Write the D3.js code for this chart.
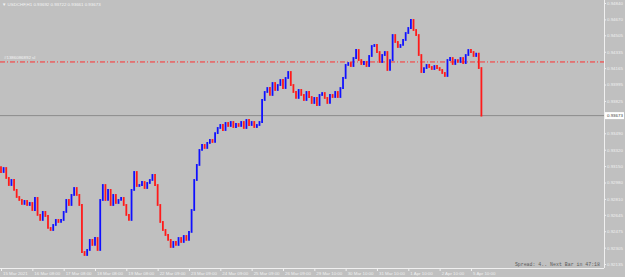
<!DOCTYPE html>
<html>
<head>
<meta charset="utf-8">
<script src="https://cdn.jsdelivr.net/npm/d3@7"></script>
<style>
  body { margin: 0; background: #c0c0c0; }
  svg { display: block; }
</style>
</head>
<body>
<div id="chart"></div>
<script>
// Donnees : cloture de chaque barre (2 heures par barre, USDCHF)
const closes = [
  0.93089,0.93130,0.93027,0.92954,0.93006,0.92903,0.92830,0.92799,0.92758,0.92789,
  0.92747,0.92768,0.92695,0.92820,0.92644,0.92592,0.92675,0.92633,0.92509,0.92488,
  0.92540,0.92592,0.92571,0.92592,0.92675,0.92799,0.92747,0.92851,0.92923,0.92851,
  0.92747,0.92260,0.92229,0.92281,0.92385,0.92333,0.92405,0.92281,0.92799,0.92954,
  0.92799,0.92903,0.92747,0.92851,0.92768,0.92799,0.92820,0.92747,0.92644,0.92592,
  0.92903,0.93089,0.92944,0.92954,0.92985,0.92923,0.92975,0.93006,0.93058,0.92954,
  0.92747,0.92571,0.92488,0.92436,0.92385,0.92312,0.92364,0.92333,0.92405,0.92364,
  0.92426,0.92385,0.92468,0.92695,0.93006,0.93162,0.93317,0.93369,0.93338,0.93390,
  0.93421,0.93400,0.93492,0.93545,0.93576,0.93524,0.93597,0.93566,0.93607,0.93555,
  0.93586,0.93566,0.93607,0.93545,0.93628,0.93576,0.93607,0.93555,0.93576,0.93607,
  0.93835,0.93918,0.93959,0.93887,0.94011,0.93939,0.93990,0.94042,0.93959,0.94063,
  0.94125,0.93990,0.93918,0.93856,0.93939,0.93887,0.93835,0.93918,0.93866,0.93804,
  0.93856,0.93783,0.93887,0.93907,0.93856,0.93804,0.93887,0.93866,0.93918,0.93866,
  0.93959,0.94063,0.94198,0.94218,0.94187,0.94270,0.94353,0.94249,0.94208,0.94229,
  0.94187,0.94291,0.94394,0.94405,0.94332,0.94229,0.94301,0.94332,0.94146,0.94249,
  0.94508,0.94436,0.94384,0.94405,0.94457,0.94529,0.94581,0.94664,0.94560,0.94508,
  0.94301,0.94125,0.94166,0.94198,0.94177,0.94156,0.94187,0.94166,0.94146,0.94115,
  0.94084,0.94249,0.94270,0.94208,0.94249,0.94229,0.94270,0.94218,0.94301,0.94353,
  0.94332,0.94291,0.94315,0.94166,0.93673
];
const firstOpen = 0.93140;
const hoursPerBar = 2;

// Graduations de prix (axe droit)
const priceTicks = [0.94840,0.94670,0.94505,0.94335,0.94165,0.93995,0.93825,
  0.93490,0.93320,0.93150,0.92980,0.92810,0.92645,0.92475,0.92305,0.92135];
const priceDomain = [0.92094, 0.94871];

// Graduations de dates (heure de la barre -> libelle)
const dateTickHours = [0,24,48,72,96,120,144,168,192,216,240,264,288,312,336,360];
const dateLabels = ["15 Mar 2021","16 Mar 08:00","17 Mar 08:00","18 Mar 08:00","19 Mar 08:00",
  "22 Mar 09:00","23 Mar 09:00","24 Mar 09:00","25 Mar 09:00","26 Mar 09:00",
  "29 Mar 10:00","30 Mar 10:00","31 Mar 10:00","1 Apr 10:00","2 Apr 10:00","5 Apr 10:00"];

const header = "USDCHF,H1  0.93692 0.93722 0.93661 0.93673";
const bid = 0.93673;
const stopLoss = 0.94229;
const stopLabel = "#1386086892 sl";
const footer = "Spread: 4.. Next Bar in 47:18";

// Dimensions
const W = 625, H = 277;
const plotW = 604, plotH = 268;
const fs = 4.4;
const sans = "Liberation Sans, DejaVu Sans, sans-serif";

const svg = d3.select("#chart")
    .append("svg")
    .attr("width", W)
    .attr("height", H)
    .style("font-family", sans);

svg.append("rect").attr("width", W).attr("height", H).attr("fill", "#c0c0c0");

const x = d3.scaleLinear()
    .domain([0, (closes.length - 1) * hoursPerBar])
    .range([1, 481.4]);

const y = d3.scaleLinear()
    .domain(priceDomain)
    .range([plotH, 0]);

// Ligne bid
svg.append("line")
    .attr("x1", 0).attr("x2", plotW)
    .attr("y1", y(bid)).attr("y2", y(bid))
    .attr("stroke", "#8c8c8c").attr("stroke-width", 1);

// Ligne stop loss (tiret-point rouge)
svg.append("line")
    .attr("x1", 0).attr("x2", plotW)
    .attr("y1", y(stopLoss)).attr("y2", y(stopLoss))
    .attr("stroke", "#ff3030").attr("stroke-width", 1)
    .attr("stroke-dasharray", "5,2,1,2");
svg.append("text")
    .attr("x", 4).attr("y", y(stopLoss) - 3)
    .attr("font-size", fs)
    .attr("fill", "#f4f4f4")
    .text(stopLabel);

// Barres
const bars = closes.map(function(c, i) {
    return { h: i * hoursPerBar, o: i === 0 ? firstOpen : closes[i - 1], c: c };
});
svg.append("g")
    .selectAll("line")
    .data(bars)
    .join("line")
    .attr("x1", d => x(d.h)).attr("x2", d => x(d.h))
    .attr("y1", d => y(d.o))
    .attr("y2", d => y(d.c))
    .attr("stroke", d => d.c >= d.o ? "#1010ff" : "#ff1a1a")
    .attr("stroke-width", 1.8)
    .attr("stroke-linecap", "square");

// Axe droit
const yAxis = svg.append("g")
    .attr("transform", `translate(${plotW},0)`)
    .call(d3.axisRight(y).tickValues(priceTicks).tickSize(2).tickFormat(d3.format(".5f")));
yAxis.attr("font-family", null);
yAxis.select(".domain").attr("stroke", "#f0f0f0").attr("d", `M0.5,0V${plotH}`);
yAxis.selectAll(".tick line").attr("stroke", "#f0f0f0");
yAxis.selectAll(".tick text")
    .attr("x", 3).attr("fill", "#f0f0f0")
    .attr("font-size", fs);

// Etiquette du prix courant
svg.append("rect")
    .attr("x", plotW + 1).attr("y", y(bid) - 3.5)
    .attr("width", 19).attr("height", 7)
    .attr("fill", "#ffffff");
svg.append("text")
    .attr("x", plotW + 3).attr("y", y(bid) + 1.6)
    .attr("font-size", fs).attr("fill", "#404040")
    .text(d3.format(".5f")(bid));

// Axe du bas
const xAxis = svg.append("g")
    .attr("transform", `translate(0,${plotH})`)
    .call(d3.axisBottom(x).tickValues(dateTickHours).tickSize(3)
        .tickFormat((d, i) => dateLabels[i]));
xAxis.attr("font-family", null);
xAxis.select(".domain").attr("stroke", "#f0f0f0").attr("d", `M0,0.5H${plotW}`);
xAxis.selectAll(".tick line").attr("stroke", "#f0f0f0");
xAxis.selectAll(".tick text")
    .attr("text-anchor", "start").attr("x", 1.5).attr("y", 3.5)
    .attr("fill", "#f0f0f0").attr("font-size", fs);

// Entete
svg.append("text")
    .attr("x", 2).attr("y", 5.5)
    .attr("font-size", fs).attr("fill", "#f4f4f4")
    .text("\u25BC " + header);

// Pied
svg.append("text")
    .attr("x", 600).attr("y", 266)
    .attr("text-anchor", "end")
    .attr("font-size", 4.9).attr("fill", "#5a5a5a")
    .style("font-family", "Liberation Mono, DejaVu Sans Mono, monospace")
    .text(footer);
</script>
</body>
</html>
